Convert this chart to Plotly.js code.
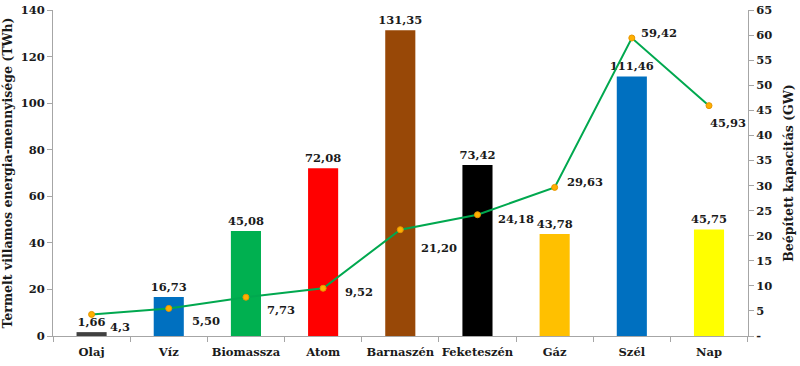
<!DOCTYPE html>
<html>
<head>
<meta charset="utf-8">
<script src="https://cdn.plot.ly/plotly-3.0.1.min.js"></script>
<style>html,body{margin:0;padding:0;background:#fff;}#chart{width:800px;height:366px;}</style>
</head>
<body>
<div id="chart"></div>
<script>
// Data
const categories = ["Olaj", "Víz", "Biomassza", "Atom", "Barnaszén", "Feketeszén", "Gáz", "Szél", "Nap"];
const energyTWh = [1.66, 16.73, 45.08, 72.08, 131.35, 73.42, 43.78, 111.46, 45.75];
const capacityGW = [4.3, 5.50, 7.73, 9.52, 21.20, 24.18, 29.63, 59.42, 45.93];
const energyLabels = ["1,66", "16,73", "45,08", "72,08", "131,35", "73,42", "43,78", "111,46", "45,75"];
const capacityLabels = ["4,3", "5,50", "7,73", "9,52", "21,20", "24,18", "29,63", "59,42", "45,93"];
const y2TickVals = [0, 5, 10, 15, 20, 25, 30, 35, 40, 45, 50, 55, 60, 65];
const y2TickText = ["-", "5", "10", "15", "20", "25", "30", "35", "40", "45", "50", "55", "60", "65"];

// Styles
const barColors = ["#404040", "#0070C0", "#00B050", "#FF0000", "#984807", "#000000", "#FFC000", "#0070C0", "#FFFF00"];
const lineLabelShift = [[28, -13], [37, -13], [35, -13], [36, -4], [39, -18], [39, -4], [30, 5], [27, 5], [19, -17]];
const FONT = "DejaVu Serif";
const TXT = "#1a1a1a";
const AXC = "#a6a6a6";
const NUM = {family: FONT, size: 11.5, color: TXT, weight: "bold"};
const CAT = {family: FONT, size: 11.5, color: TXT, weight: "bold"};
const TTL = {family: FONT, size: 12.5, color: TXT, weight: "bold"};

const bars = {
  type: "bar",
  x: categories,
  y: energyTWh,
  marker: {color: barColors},
  text: energyLabels,
  texttemplate: "%{text}",
  textposition: "outside",
  constraintext: "none",
  cliponaxis: false,
  textfont: NUM,
  hoverinfo: "skip",
  yaxis: "y"
};

const line = {
  type: "scatter",
  mode: "lines+markers",
  x: categories,
  y: capacityGW,
  yaxis: "y2",
  line: {color: "#00A84F", width: 2},
  marker: {color: "#FFB000", size: 6, line: {color: "#E69500", width: 1}},
  cliponaxis: false,
  hoverinfo: "skip"
};

const annotations = categories.map((c, i) => ({
  x: c, y: capacityGW[i], xref: "x", yref: "y2",
  text: capacityLabels[i], showarrow: false,
  xshift: lineLabelShift[i][0], yshift: lineLabelShift[i][1],
  font: NUM
}));

const layout = {
  width: 800, height: 366,
  margin: {l: 53, r: 52, t: 10, b: 30},
  paper_bgcolor: "#fff", plot_bgcolor: "#fff",
  showlegend: false,
  bargap: 0.61,
  font: {family: FONT, size: 11.5, color: TXT, weight: "bold"},
  xaxis: {
    type: "category",
    showline: true, linecolor: AXC, linewidth: 1,
    ticks: "outside", tickson: "boundaries", ticklen: 5, tickcolor: AXC,
    tickangle: 0, ticklabelstandoff: 5,
    showgrid: false, zeroline: false,
    tickfont: CAT,
    fixedrange: true
  },
  yaxis: {
    range: [0, 140], dtick: 20,
    showline: true, linecolor: AXC, linewidth: 1,
    ticks: "outside", ticklen: 5, tickcolor: AXC,
    showgrid: false, zeroline: false,
    tickfont: NUM,
    title: {text: "Termelt villamos energia-mennyisége (TWh)", font: TTL, standoff: 5}
  },
  yaxis2: {
    overlaying: "y", side: "right",
    range: [0, 65],
    tickvals: y2TickVals, ticktext: y2TickText,
    showline: true, linecolor: AXC, linewidth: 1,
    ticks: "outside", ticklen: 5, tickcolor: AXC,
    showgrid: false, zeroline: false,
    tickfont: NUM,
    title: {text: "Beépített kapacitás (GW)", font: TTL, standoff: 12}
  },
  annotations: annotations
};

Plotly.newPlot("chart", [bars, line], layout, {displayModeBar: false, staticPlot: true});
</script>
</body>
</html>
